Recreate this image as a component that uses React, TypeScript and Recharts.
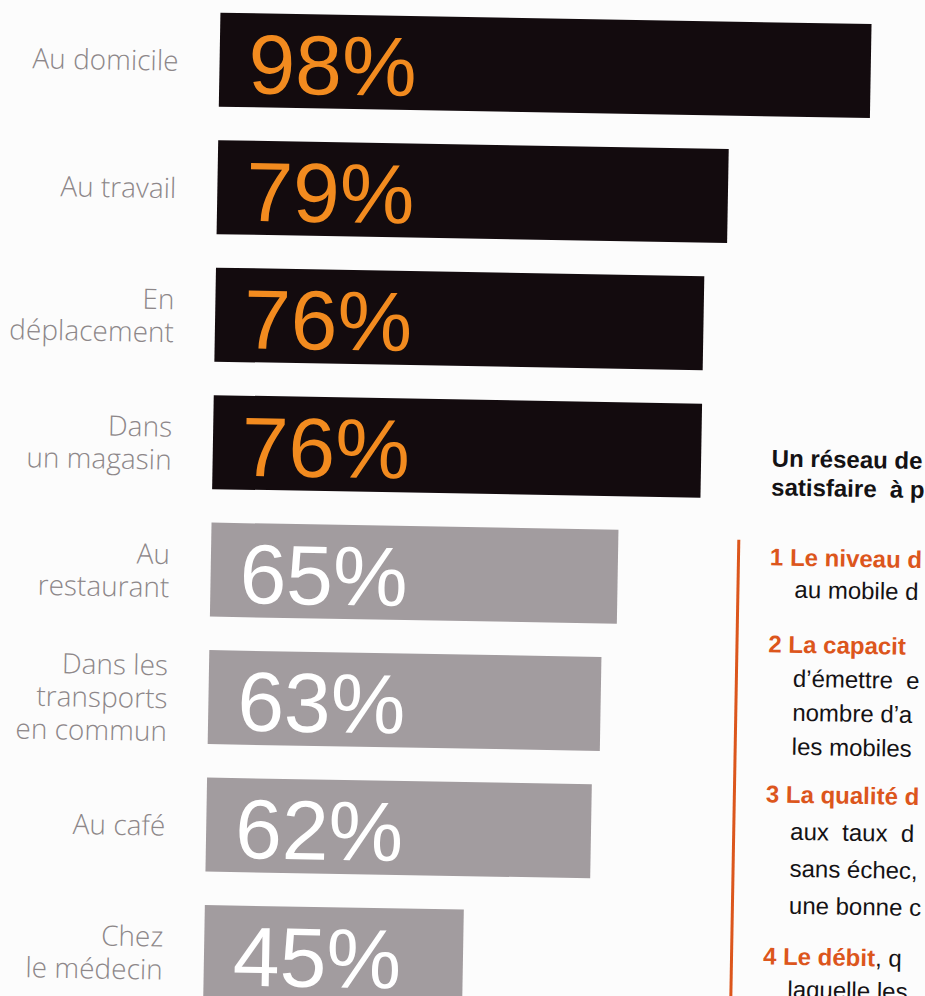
import { BarChart, Bar, XAxis, YAxis, Cell, LabelList } from "recharts";

// Share of respondents, by place of use
const places = [
  "Au domicile",
  "Au travail",
  "En\ndéplacement",
  "Dans\nun magasin",
  "Au\nrestaurant",
  "Dans les\ntransports\nen commun",
  "Au café",
  "Chez\nle médecin",
];
const shares = [98, 79, 76, 76, 65, 63, 62, 45];
// first four are printed as dark bars with orange figures
const darkBars = [true, true, true, true, false, false, false, false];

const data = places.map((place, i) => ({ place, share: shares[i] }));

const DARK = "#130b0e";
const GREY = "#a29c9f";
const ORANGE = "#f28b1f";
const RED = "#dc561c";

function PlaceTick({ x, y, payload }: any) {
  const lines = String(payload.value).split("\n");
  const lh = 33;
  const first = y - ((lines.length - 1) * lh) / 2 + 12;
  return (
    <text
      x={x}
      y={first}
      textAnchor="end"
      fill="#8d8789"
      fontFamily="'Open Sans', sans-serif"
      fontWeight={300}
      fontSize={28}
    >
      {lines.map((l, i) => (
        <tspan key={i} x={x} dy={i === 0 ? 0 : lh}>
          {l}
        </tspan>
      ))}
    </text>
  );
}

function ShareLabel({ x, y, height, value, index }: any) {
  const dark = darkBars[index] ?? false;
  return (
    <text
      x={x + 29}
      y={y + height / 2 + 4}
      dominantBaseline="central"
      fill={dark ? ORANGE : "#ffffff"}
      fontFamily="'Liberation Sans', Arial, sans-serif"
      fontSize={84}
    >
      {value}%
    </text>
  );
}

// side text of the page, cut off by the scan edge
const heading = ["Un réseau de", "satisfaire  à p"];
const items = [
  { title: "1 Le niveau d", tail: "", body: ["au mobile d"], top: 536, lh: 32 },
  { title: "2 La capacit", tail: "", body: ["d’émettre  e", "nombre d’a", "les mobiles"], top: 622, lh: 34 },
  { title: "3 La qualité d", tail: "", body: ["aux  taux  d", "sans échec,", "une bonne c"], top: 770, lh: 37 },
  { title: "4 Le débit", tail: ", q", body: ["laquelle les"], top: 934, lh: 33 },
];

const sideFont = {
  position: "absolute" as const,
  left: 771,
  fontFamily: "'Liberation Sans', Arial, sans-serif",
  fontSize: 24,
  whiteSpace: "pre" as const,
  color: "#141214",
};

export default function App() {
  return (
    <div
      style={{
        position: "fixed",
        top: 0,
        left: 0,
        width: 925,
        height: 996,
        overflow: "hidden",
        background: "#fcfcfc",
      }}
    >
      <div
        style={{
          position: "absolute",
          top: 0,
          left: 0,
          width: 925,
          height: 996,
          transform: "rotate(1deg)",
          transformOrigin: "50% 50%",
        }}
      >
        <BarChart
          layout="vertical"
          width={925}
          height={1020}
          data={data}
          margin={{ top: 0, right: 47, bottom: 0, left: 0 }}
          barSize={94}
        >
          <XAxis type="number" domain={[10, 100]} hide />
          <YAxis
            type="category"
            dataKey="place"
            width={212}
            axisLine={false}
            tickLine={false}
            tickMargin={35}
            tick={<PlaceTick />}
          />
          <Bar dataKey="share" isAnimationActive={false}>
            {data.map((d, i) => (
              <Cell key={d.place} fill={darkBars[i] ? DARK : GREY} />
            ))}
            <LabelList dataKey="share" content={<ShareLabel />} />
          </Bar>
        </BarChart>

        {/* Side column */}
        <div
          style={{
            position: "absolute",
            left: 738,
            top: 535,
            width: 3,
            height: 480,
            background: RED,
          }}
        />
        <div style={{ ...sideFont, top: 438, fontWeight: 700, lineHeight: "29px" }}>
          {heading.map((h) => (
            <div key={h}>{h}</div>
          ))}
        </div>
        {items.map((it) => (
          <div key={it.title} style={{ ...sideFont, top: it.top, lineHeight: `${it.lh}px` }}>
            <div>
              <span style={{ color: RED, fontWeight: 700 }}>{it.title}</span>
              {it.tail}
            </div>
            {it.body.map((b) => (
              <div key={b} style={{ paddingLeft: 25 }}>
                {b}
              </div>
            ))}
          </div>
        ))}
      </div>
    </div>
  );
}
